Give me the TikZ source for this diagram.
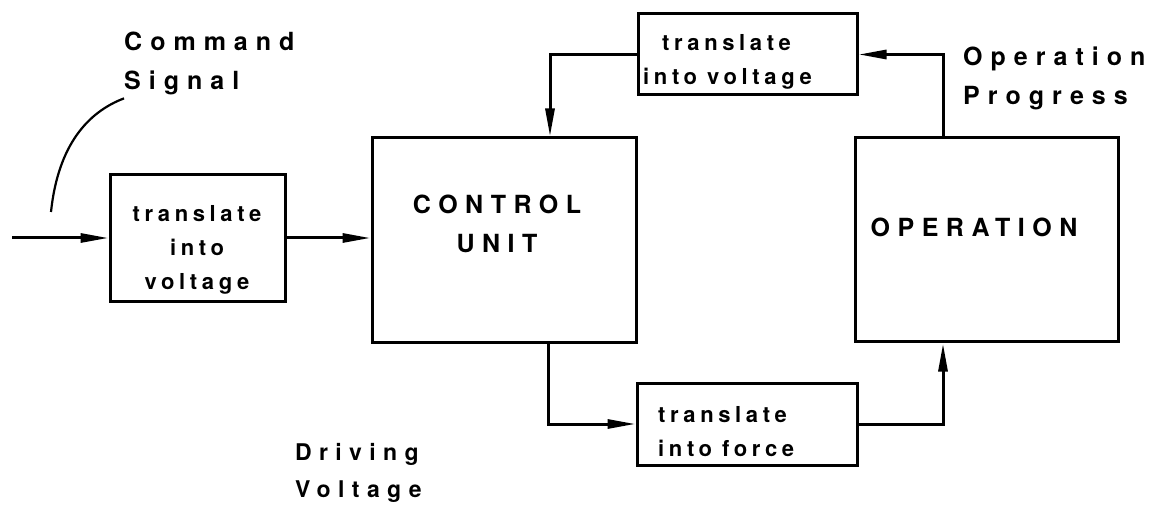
\documentclass[tikz,border=0pt]{standalone}
\usepackage{fontspec}
\usetikzlibrary{arrows.meta}
\newfontfamily\labelface{TeX Gyre Heros}[LetterSpace=32]
\newfontfamily\capsface{TeX Gyre Heros}[LetterSpace=30]
\newfontfamily\boxface{TeX Gyre Heros}[LetterSpace=21]

\begin{document}
\begin{tikzpicture}[
x=1pt, y=-1pt,
block/.style={draw, line width=3pt, inner sep=0pt},
boxtext/.style={font=\boxface\bfseries\fontsize{22}{34}\selectfont, inner sep=0pt},
captext/.style={font=\capsface\bfseries\fontsize{25}{39}\selectfont, align=center, inner sep=0pt},
sidelabel/.style={font=\labelface\bfseries\fontsize{25}{39}\selectfont, align=left, anchor=north west, inner sep=0pt},
arrow/.style={-{Triangle[length=28pt,width=9pt]}, line width=3pt},
plain/.style={line width=2.2pt} ]

\useasboundingbox (0,0) rectangle (1156,510);

% blocks
\node[block, minimum width=175pt, minimum height=127pt] (tv1) at (197.5,238.5) {};
\node[boxtext, align=center] (tv1text) at (197,249.5) {translate\\into\\voltage};

\node[block, minimum width=264pt, minimum height=205pt] (cu) at (504,240.5) {};
\node[captext] (cutext) at (497,224) {CONTROL\\UNIT};

\node[block, minimum width=219pt, minimum height=81pt] (tvt) at (747.5,54.5) {};
\node[boxtext, align=left, anchor=west] (tvttext) at (643,61.5) {\hspace*{19pt}translate\\into\hspace{10pt}voltage};

\node[block, minimum width=220pt, minimum height=82pt] (tf) at (747,424) {};
\node[boxtext, align=left, anchor=west] (tftext) at (658,431.5) {translate\\into\hspace{10pt}force};

\node[block, minimum width=263pt, minimum height=204pt] (op) at (986.5,240) {};
\node[captext] (optext) at (974,227) {OPERATION};

% labels
\node[sidelabel] (cmdsig) at (124,32) {Command\\Signal};
\node[sidelabel] (opprog) at (963,47) {Operation\\Progress};
\node[sidelabel, font=\labelface\bfseries\fontsize{23}{37}\selectfont] (drvolt) at (295,443) {Driving\\Voltage};

% connectors
\coordinate (in) at (12,238);
\coordinate (cstail) at (51,212);

\draw[arrow] (in) -- (tv1.west |- in);
\draw[arrow] (tv1.east |- in) -- (cu.west |- in);
\draw[arrow] ([xshift=44pt]cu.south) |- (tf.west);
\draw[arrow] (tf.east) -| ([xshift=-43.5pt]op.south);
\draw[arrow] ([xshift=-43.5pt]op.north) |- (tvt.east);
\draw[arrow] (tvt.west) -| ([xshift=46pt]cu.north);

\draw[plain] (cstail) .. controls (58,145) and (88,112) .. ([yshift=-3pt]cmdsig.south west);

\end{tikzpicture}
\end{document}
